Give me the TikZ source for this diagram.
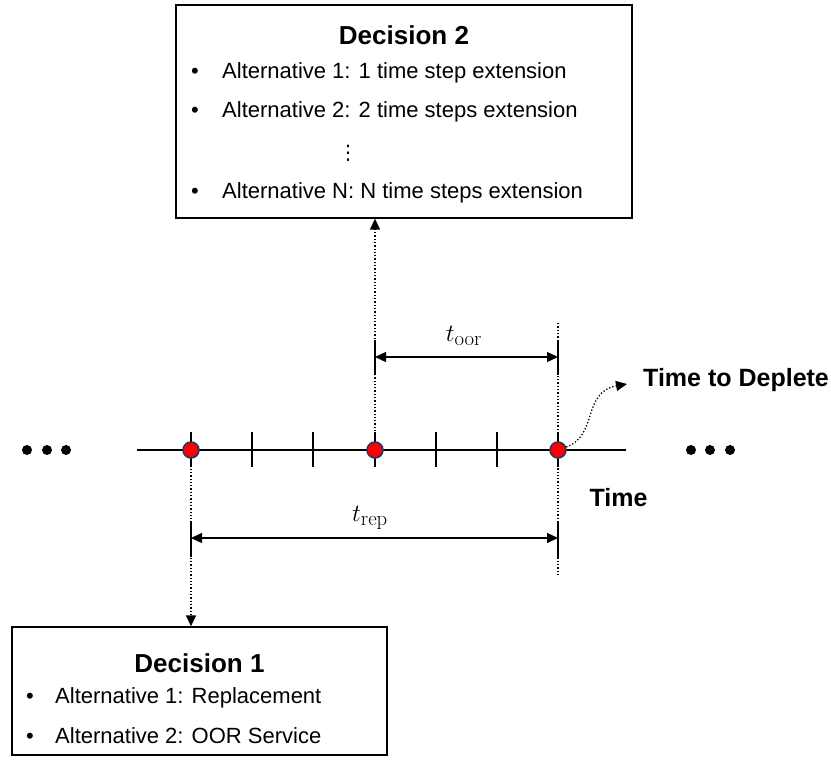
\documentclass[tikz,border=0pt]{standalone}
\usepackage[no-math]{fontspec}
\setmainfont{Liberation Sans}
\newfontfamily\symfont{DejaVu Sans}
\usetikzlibrary{arrows.meta}
\definecolor{navy}{HTML}{203864}

\begin{document}
\begin{tikzpicture}[x=1pt,y=-1pt,
		box/.style={draw,line width=1.3pt,inner sep=0pt},
		txt/.style={inner sep=0pt,text height=16pt,text depth=5pt,font=\fontsize{22}{26}\selectfont},
		ttl/.style={inner sep=0pt,font=\fontsize{26}{30}\selectfont\bfseries},
		lbl/.style={inner sep=2pt,font=\fontsize{25}{30}\selectfont\bfseries},
		mth/.style={inner sep=0pt,font=\fontsize{30}{34}\selectfont},
		pt/.style={circle,draw=navy,fill=red,line width=1.5pt,minimum size=16pt,inner sep=0pt},
		ell/.style={circle,fill=black,minimum size=10pt,inner sep=0pt},
		axis/.style={line width=1.5pt},
		dotline/.style={dotted,line width=1.3pt},
		dim/.style={line width=1.3pt,{Triangle[length=11pt,width=10pt]}-{Triangle[length=11pt,width=10pt]}},
		up/.style={-{Triangle[length=11pt,width=10pt]}}]
		\useasboundingbox (0,0) rectangle (831,765);
		\node[box,minimum width=456pt,minimum height=213pt] (D2) at (404,111.5) {};
		\node[ttl] (D2t) at (404,35) {Decision 2};
		\node[txt] (b21) at (195,73) {•};
		\node[txt,anchor=west] (a21) at (222,73) {Alternative 1: 1 time step extension};
		\node[txt] (b22) at (195,112) {•};
		\node[txt,anchor=west] (a22) at (222,112) {Alternative 2: 2 time steps extension};
		\node[inner sep=0pt,font=\fontsize{20}{24}\symfont] (vd) at (348,153) {⋮};
		\node[txt] (b2N) at (195,193) {•};
		\node[txt,anchor=west] (a2N) at (222,193) {Alternative N: N time steps extension};
		\node[box,minimum width=375pt,minimum height=128pt] (D1) at (199.5,691) {};
		\node[ttl] (D1t) at (199.5,663) {Decision 1};
		\node[txt] (b11) at (30,698) {•};
		\node[txt,anchor=west] (a11) at (55,698) {Alternative 1: Replacement};
		\node[txt] (b12) at (30,738) {•};
		\node[txt,anchor=west] (a12) at (55,738) {Alternative 2: OOR Service};
		\coordinate (L) at (137,450);
		\coordinate (R) at (626,450);
		\draw[axis] (L) -- (R);
		\foreach \x in {191,252,313,375,436,497,558}
			\draw[axis] (\x,432) -- (\x,467);
		\coordinate (e1) at (558,323);
		\coordinate (e2) at (558,575);
		\draw[dotline] (e1) -- (e2);
		\foreach \x/\y in {375/340,558/340,191/522,558/522}
			\draw[axis] (\x,\y) -- (\x,\y+35);
		\node[pt] (p0) at (191,450) {};
		\node[pt] (p1) at (375,450) {};
		\node[pt] (p2) at (558,450) {};
		\foreach \x [count=\i] in {27,47,66}
			\node[ell] (l\i) at (\x,450) {};
		\foreach \x [count=\i] in {691,710,730}
			\node[ell] (r\i) at (\x,450) {};
		\draw[dotline,up] (p1) -- (p1 |- D2.south);
		\draw[dotline,up] (p0) -- (p0 |- D1.north);
		\coordinate (o1) at (375,357);
		\coordinate (o2) at (558,357);
		\coordinate (q1) at (191,538);
		\coordinate (q2) at (558,538);
		\draw[dim] (o1) -- (o2);
		\draw[dim] (q1) -- (q2);
		\node[mth] (too) at (464,336) {$t_{\mathrm{oor}}$};
		\node[mth] (trep) at (370,518) {$t_{\mathrm{rep}}$};
		\node[lbl] (T) at (618.5,498) {Time};
		\node[lbl,anchor=west] (TD) at (641,380) {Time to Deplete};
		\draw[dotline,up] (p2.20) .. controls (598,436) and (582,392) .. ([xshift=-14pt,yshift=-4pt]TD.west);
\end{tikzpicture}
\end{document}
